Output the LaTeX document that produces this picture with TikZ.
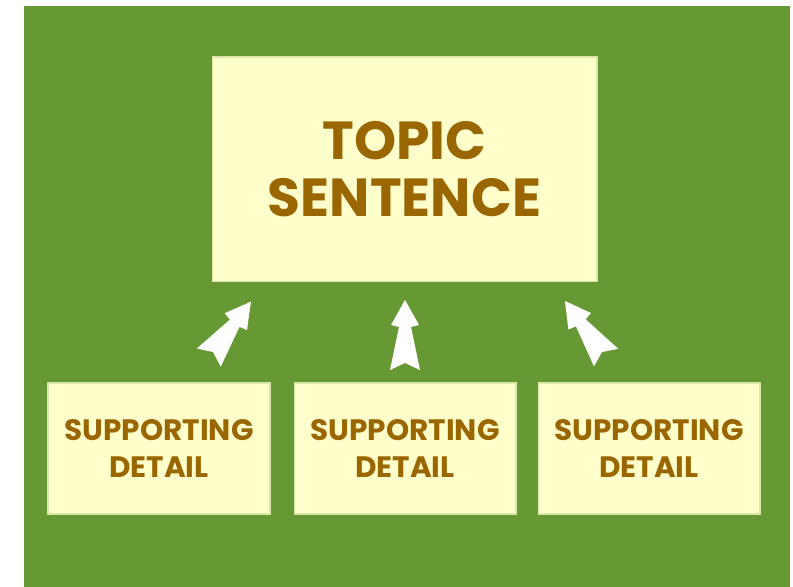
\documentclass[tikz,border=0pt]{standalone}
\usepackage{fontspec}
\setmainfont{Poppins}
\usepackage{xcolor}
\usepackage{tikz}
\definecolor{leaf}{HTML}{669933}
\definecolor{cream}{HTML}{FFFFCC}
\definecolor{rim}{HTML}{DCE6A8}
\definecolor{umber}{HTML}{996600}

\begin{document}
\begin{tikzpicture}[x=0.02cm,y=0.02cm,
		topicbox/.style={draw=rim,line width=0.6pt,fill=cream,minimum width=7.7cm,minimum height=4.5cm,
			text=umber,align=center,font=\fontsize{30.5}{32.5}\selectfont\bfseries},
		detailbox/.style={draw=rim,line width=0.6pt,fill=cream,minimum width=4.44cm,minimum height=2.62cm,
			text=umber,align=center,font=\fontsize{16.8}{21.6}\selectfont\bfseries},
		fletch/.pic={\fill[white] (0,0) -- (-15,-7) -- (-6,36) -- (-14,38) -- (0,63) -- (14,38) -- (6,36) -- (15,-7) -- cycle;}]
			\fill[white] (0,0) rectangle (793,587);
			\fill[leaf] (24,0) rectangle (790,581);
			\node[topicbox] (topic) at (404.5,417.5) {TOPIC\\SENTENCE};
			\node[detailbox] (d1) at (159,138.5) {SUPPORTING\\DETAIL};
			\node[detailbox] (d2) at (405,138.5) {SUPPORTING\\DETAIL};
			\node[detailbox] (d3) at (649,138.5) {SUPPORTING\\DETAIL};
			\coordinate (a1) at (213,235);
			\coordinate (a2) at (405,224);
			\coordinate (a3) at (602,235);
			\pic[rotate=-37] at (a1) {fletch};
			\pic at (a2) {fletch};
			\pic[rotate=36] at (a3) {fletch};
		\end{tikzpicture}
\end{document}
